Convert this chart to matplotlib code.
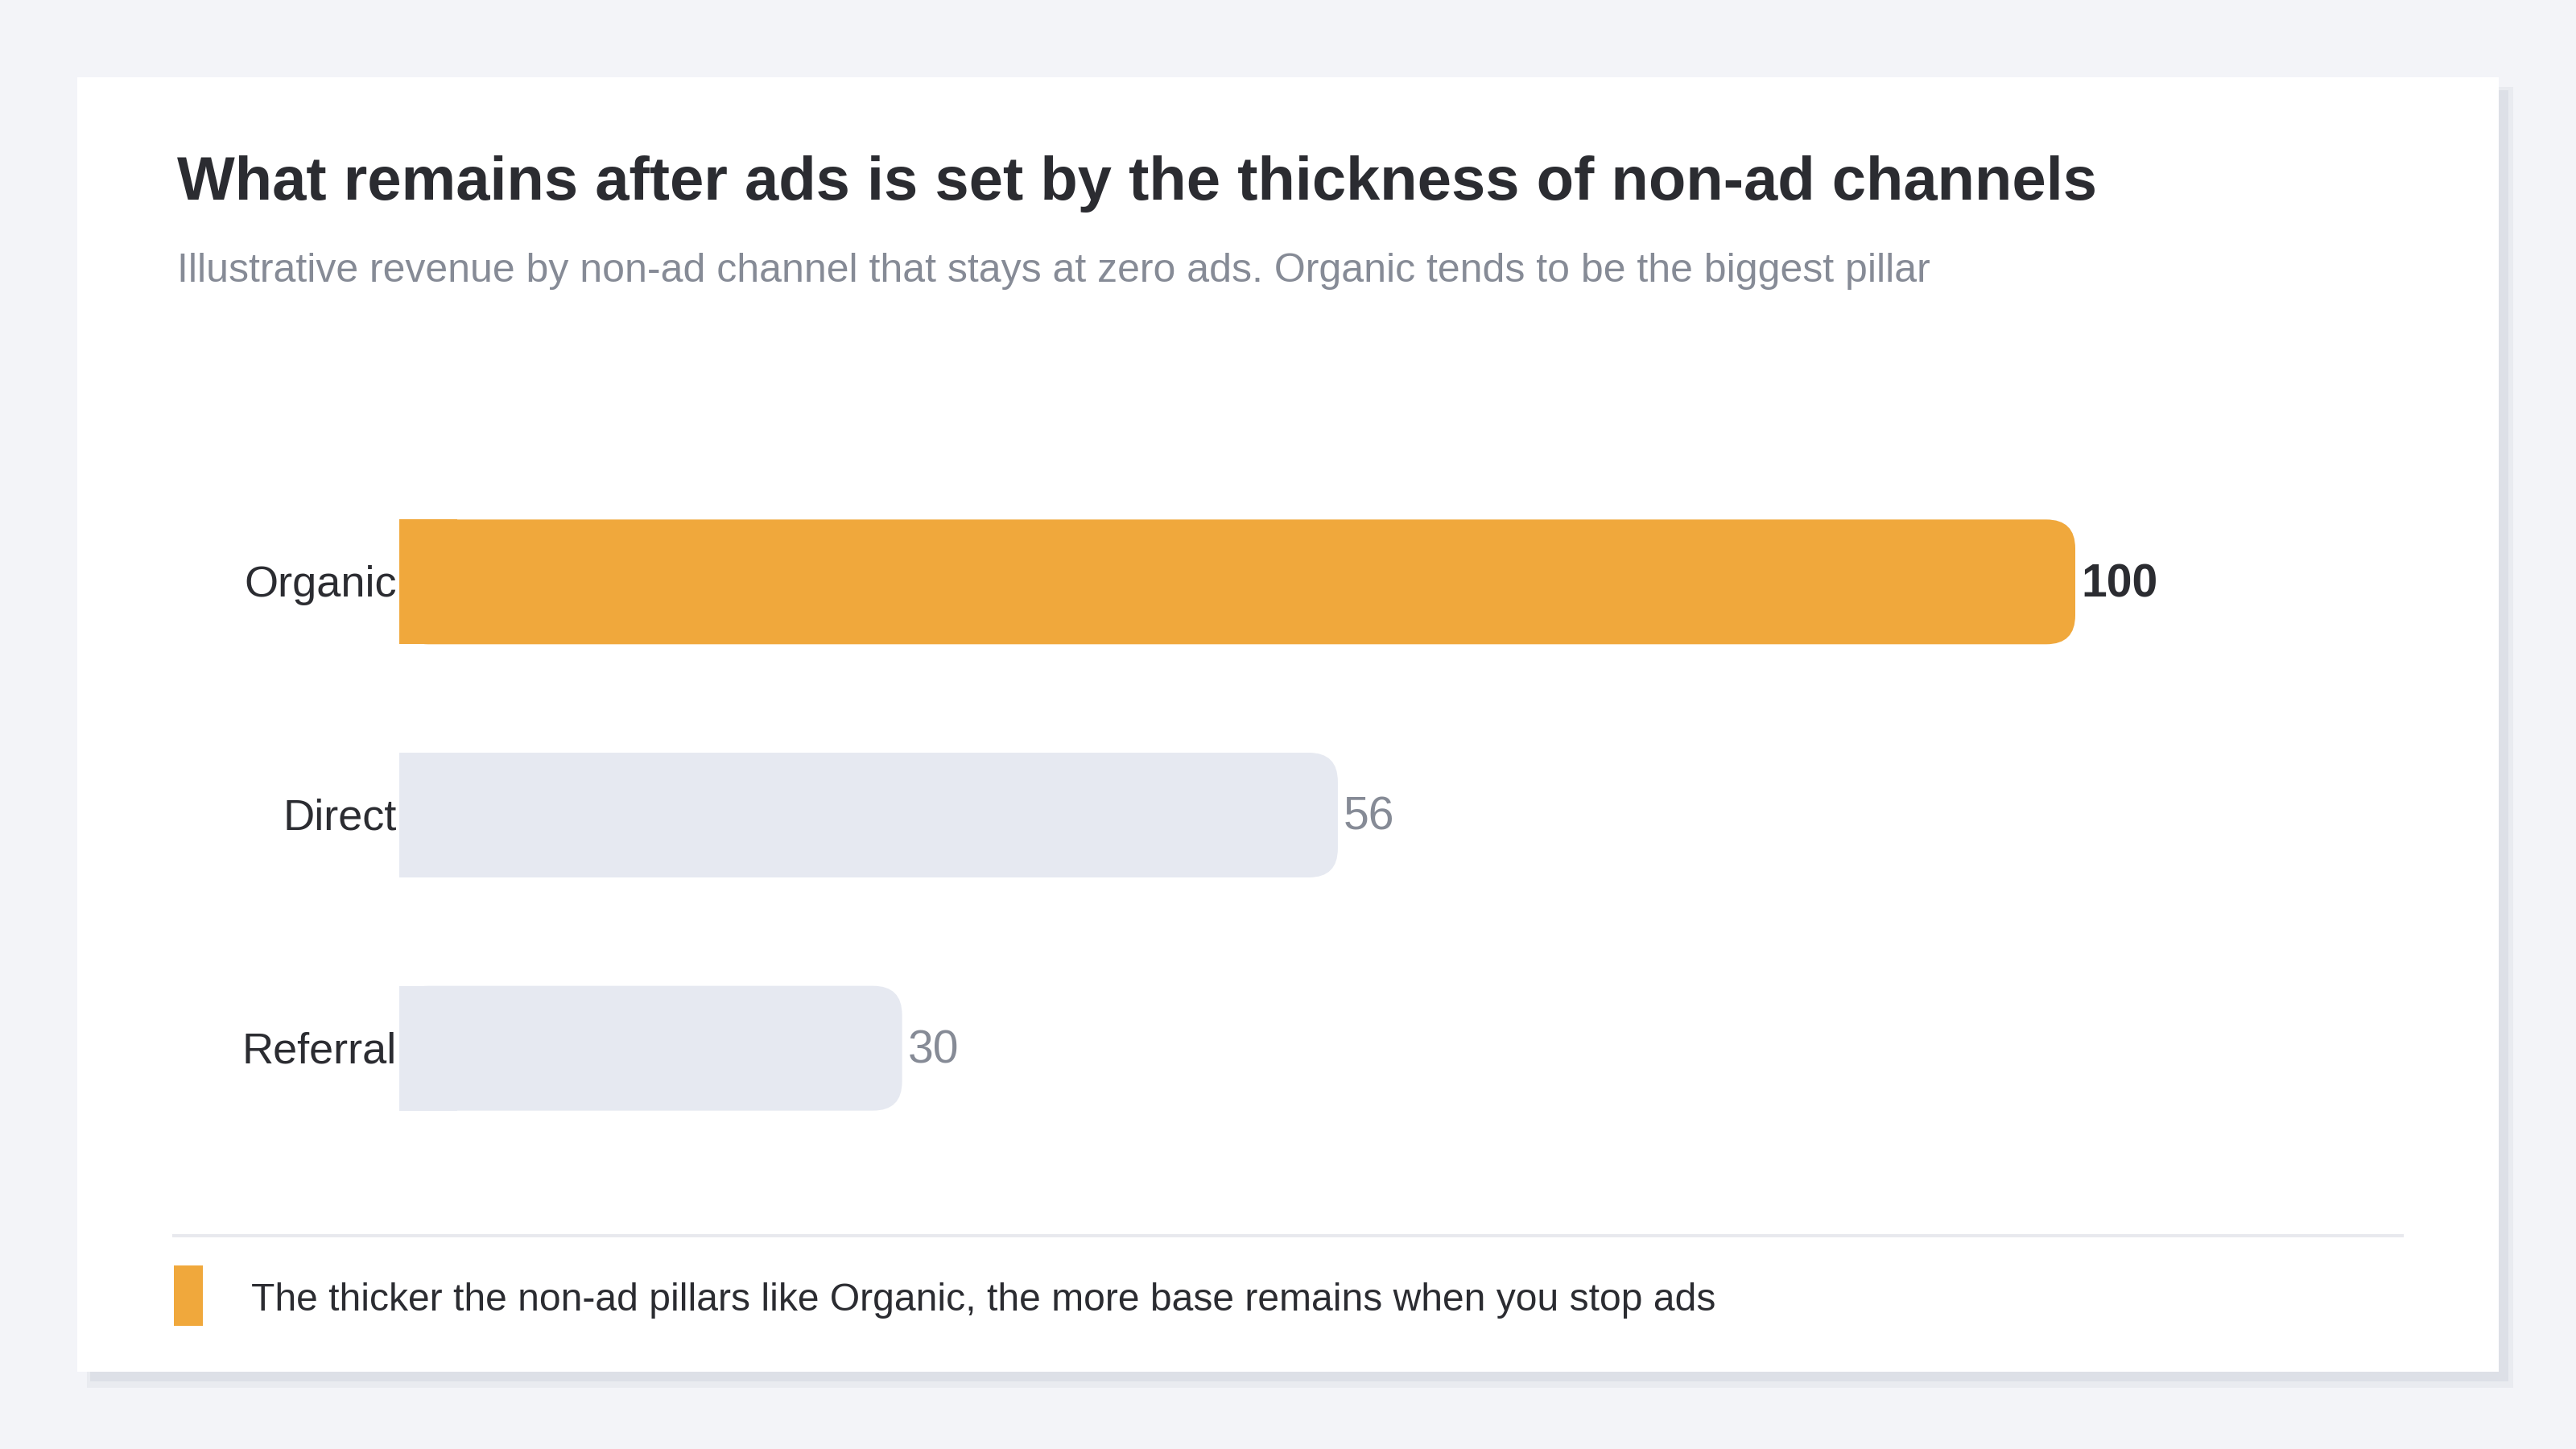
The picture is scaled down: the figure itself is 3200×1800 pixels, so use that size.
import matplotlib.pyplot as plt
from matplotlib.patches import FancyBboxPatch, Rectangle

plt.rcParams['font.family'] = ['Liberation Sans', 'DejaVu Sans']

channels = ['Organic', 'Direct', 'Referral']
revenue = [100, 56, 30]
highlight = 'Organic'

title = 'What remains after ads is set by the thickness of non-ad channels'
subtitle = ('Illustrative revenue by non-ad channel that stays at zero ads. '
            'Organic tends to be the biggest pillar')
note = 'The thicker the non-ad pillars like Organic, the more base remains when you stop ads'

W, H = 3200, 1800
bg = '#f3f4f8'
orange = '#f0a83c'
grey_bar = '#e6e9f1'
dark = '#2b2c31'
muted = '#868b96'

fig = plt.figure(figsize=(16, 9), dpi=200, facecolor=bg)


def px(x0, y0, x1, y1):
    # pixel box (top-left origin) -> figure fraction rect
    return [x0 / W, 1 - y1 / H, (x1 - x0) / W, (y1 - y0) / H]


# card with soft shadow, kept behind the axes
for (x0, y0, x1, y1), c in [((108, 108, 3122, 1724), '#e9ebf0'),
                            ((112, 112, 3116, 1716), '#dde0e7'),
                            ((96, 96, 3104, 1704), 'white')]:
    fig.patches.append(Rectangle((x0 / W, 1 - y1 / H), (x1 - x0) / W, (y1 - y0) / H,
                                 transform=fig.transFigure, facecolor=c,
                                 edgecolor='none', zorder=-5))

fig.text(220 / W, 1 - 248 / H, title, fontsize=27.35, fontweight='bold',
         color=dark, va='baseline', ha='left')
fig.text(220 / W, 1 - 350 / H, subtitle, fontsize=18, color=muted,
         va='baseline', ha='left')

# bar area
ax_left, ax_right = 496, 2578
ax_top, ax_bot = 578, 1447
ax = fig.add_axes(px(ax_left, ax_top, ax_right, ax_bot))
ax.set_xlim(0, 100)
ax.set_ylim(len(channels) - 0.5, -0.5)
ax.axis('off')

bar_h = 0.535
r_px = 36
xr = r_px * 100 / (ax_right - ax_left)
aspect = (len(channels) / (ax_bot - ax_top)) / (100 / (ax_right - ax_left))

for i, (name, v) in enumerate(zip(channels, revenue)):
    col = orange if name == highlight else grey_bar
    # square left end, rounded right end
    ax.add_patch(FancyBboxPatch((0, i - bar_h / 2), v, bar_h,
                                boxstyle=f'round,pad=0,rounding_size={xr}',
                                mutation_aspect=aspect, facecolor=col,
                                edgecolor='none'))
    ax.add_patch(Rectangle((0, i - bar_h / 2), 2 * xr, bar_h, facecolor=col,
                           edgecolor='none'))
    ax.annotate(name, xy=(0, i), xytext=(-1, -1.5), textcoords='offset points',
                ha='right', va='center', fontsize=19.5, color=dark,
                annotation_clip=False)
    bold = name == highlight
    ax.annotate(f'{v}', xy=(v, i), xytext=(2.5, -1.2), textcoords='offset points',
                ha='left', va='center', fontsize=20.5,
                fontweight='bold' if bold else 'normal',
                color=dark if bold else muted, annotation_clip=False)

# footer
fig.lines.append(plt.Line2D([216 / W, 2984 / W], [1 - 1535 / H] * 2,
                            transform=fig.transFigure, color='#e8e9ee', lw=1.5))
fig.patches.append(Rectangle((216 / W, 1 - 1647 / H), 36 / W, 75 / H,
                             transform=fig.transFigure, facecolor=orange,
                             edgecolor='none'))
fig.text(312 / W, 1 - 1628 / H, note, fontsize=17.3, color=dark,
         va='baseline', ha='left')

fig.savefig('out.png', dpi=200, facecolor=bg)
